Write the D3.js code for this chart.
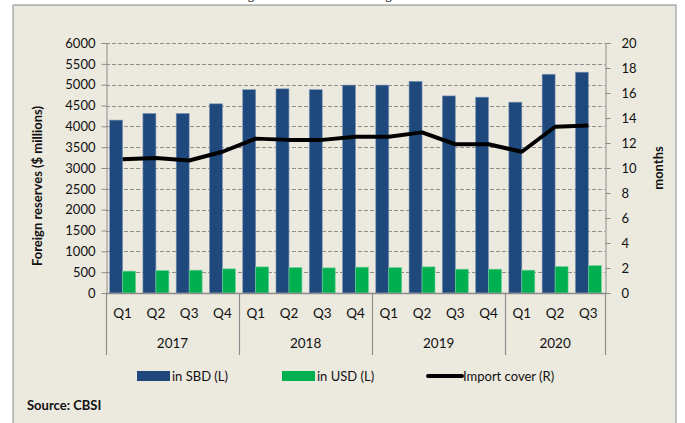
<!DOCTYPE html>
<html>
<head>
<meta charset="utf-8">
<script src="https://cdn.jsdelivr.net/npm/d3@7"></script>
<style>
  html, body { margin: 0; padding: 0; background: #fff; }
  svg { display: block; font-family: Lato, "Open Sans", sans-serif; }
</style>
</head>
<body>
<div id="chart"></div>
<script>
// quarters and years on the category axis
const QUARTERS = ['Q1','Q2','Q3','Q4','Q1','Q2','Q3','Q4','Q1','Q2','Q3','Q4','Q1','Q2','Q3'];
const YEARS = [
  { label: '2017', from: 0, to: 4 },
  { label: '2018', from: 4, to: 8 },
  { label: '2019', from: 8, to: 12 },
  { label: '2020', from: 12, to: 15 },
];
// foreign reserves, $ millions (left axis)
const SBD = [4150, 4310, 4310, 4540, 4880, 4900, 4880, 4990, 4990, 5080, 4730, 4700, 4580, 5250, 5300];
const USD = [525, 540, 548, 580, 627, 610, 603, 620, 610, 627, 572, 572, 548, 634, 658];
// import cover, months (right axis)
const COVER = [10.7, 10.8, 10.6, 11.3, 12.35, 12.25, 12.25, 12.5, 12.5, 12.85, 11.9, 11.9, 11.3, 13.3, 13.4];

const LEFT_TICKS = d3.range(0, 6001, 500);
const RIGHT_TICKS = d3.range(0, 21, 2);

const W = 685, H = 423;
const plot = { left: 106, right: 605, top: 43, bottom: 293 };
const BLUE = '#1f497d', GREEN = '#00b050', AXIS = '#8c8c8c';

const svg = d3.select('#chart').append('svg')
  .attr('width', W).attr('height', H);

// figure caption, mostly cropped away at the top like the source image
svg.append('text')
  .attr('x', 352).attr('y', -1)
  .attr('text-anchor', 'middle')
  .attr('font-family', '"DejaVu Serif", serif')
  .attr('font-size', 14)
  .attr('fill', '#222')
  .text('Figure 6: Gross Foreign Reserves');

svg.append('rect')
  .attr('x', 13).attr('y', 5)
  .attr('width', 663).attr('height', 430)
  .attr('fill', '#ece9df')
  .attr('stroke', '#8a8a8a');

const x = d3.scaleBand()
  .domain(d3.range(QUARTERS.length))
  .range([plot.left, plot.right])
  .padding(0);

const yL = d3.scaleLinear().domain([0, 6000]).range([plot.bottom, plot.top]);
const yR = d3.scaleLinear().domain([0, 20]).range([plot.bottom, plot.top]);

// gridlines
svg.append('g')
  .selectAll('line')
  .data(LEFT_TICKS.slice(1))
  .join('line')
  .attr('x1', plot.left).attr('x2', plot.right)
  .attr('y1', d => Math.round(yL(d)) + 0.5).attr('y2', d => Math.round(yL(d)) + 0.5)
  .attr('stroke', '#8e8e8e')
  .attr('stroke-dasharray', '4,2');

// left axis
svg.append('g')
  .attr('transform', `translate(${plot.left + 0.5},0)`)
  .call(d3.axisLeft(yL).tickValues(LEFT_TICKS).tickFormat(d3.format('d')).tickSize(5).tickPadding(6))
  .call(ax => ax.selectAll('path,line').attr('stroke', AXIS))
  .call(ax => ax.selectAll('text').attr('font-size', 13).attr('fill', '#111').attr('font-family', 'Lato'));

// right axis
svg.append('g')
  .attr('transform', `translate(${plot.right + 0.5},0)`)
  .call(d3.axisRight(yR).tickValues(RIGHT_TICKS).tickSize(5).tickPadding(11))
  .call(ax => ax.selectAll('path,line').attr('stroke', AXIS))
  .call(ax => ax.selectAll('text').attr('font-size', 13).attr('fill', '#111').attr('font-family', 'Lato'));

// bars
const barW = x.bandwidth() * 0.39;
const bars = svg.append('g');
bars.selectAll('.sbd')
  .data(SBD)
  .join('rect')
  .attr('class', 'sbd')
  .attr('x', (d, i) => x(i) + x.bandwidth() / 2 - barW)
  .attr('y', d => yL(d))
  .attr('width', barW)
  .attr('height', d => yL(0) - yL(d))
  .attr('fill', BLUE)
  .attr('stroke', '#7f97b6').attr('stroke-width', 0.6);

bars.selectAll('.usd')
  .data(USD)
  .join('rect')
  .attr('class', 'usd')
  .attr('x', (d, i) => x(i) + x.bandwidth() / 2)
  .attr('y', d => yL(d))
  .attr('width', barW)
  .attr('height', d => yL(0) - yL(d))
  .attr('fill', GREEN)
  .attr('stroke', '#6fd39a').attr('stroke-width', 0.6);

// category baseline
svg.append('line')
  .attr('x1', plot.left).attr('x2', plot.right)
  .attr('y1', plot.bottom + 0.5).attr('y2', plot.bottom + 0.5)
  .attr('stroke', AXIS).attr('stroke-width', 1.5);

// import cover line
const line = d3.line()
  .x((d, i) => x(i) + x.bandwidth() / 2)
  .y(d => yR(d));

svg.append('path')
  .datum(COVER)
  .attr('d', line)
  .attr('fill', 'none')
  .attr('stroke', '#000')
  .attr('stroke-width', 4)
  .attr('stroke-linejoin', 'round');

// quarter labels
svg.append('g')
  .selectAll('text')
  .data(QUARTERS)
  .join('text')
  .attr('x', (d, i) => x(i) + x.bandwidth() / 2)
  .attr('y', 318)
  .attr('text-anchor', 'middle')
  .attr('font-size', 13.5)
  .attr('fill', '#111')
  .text(d => d);

// year groups with divider lines
const dividers = [0, ...YEARS.map(g => g.to)];
svg.append('g')
  .selectAll('line')
  .data(dividers)
  .join('line')
  .attr('x1', d => Math.round(d < QUARTERS.length ? x(d) : plot.right) + 0.5)
  .attr('x2', d => Math.round(d < QUARTERS.length ? x(d) : plot.right) + 0.5)
  .attr('y1', plot.bottom).attr('y2', 355)
  .attr('stroke', AXIS).attr('stroke-width', 1.2);

svg.append('g')
  .selectAll('text')
  .data(YEARS)
  .join('text')
  .attr('x', g => (x(g.from) + (g.to < QUARTERS.length ? x(g.to) : plot.right)) / 2)
  .attr('y', 348)
  .attr('text-anchor', 'middle')
  .attr('font-size', 13.5)
  .attr('fill', '#111')
  .text(g => g.label);

// axis titles
svg.append('text')
  .attr('transform', `translate(42,${(plot.top + plot.bottom) / 2 + 18}) rotate(-90)`)
  .attr('text-anchor', 'middle')
  .attr('font-size', 13)
  .attr('font-weight', 'bold')
  .attr('fill', '#111')
  .text('Foreign reserves ($ millions)');

svg.append('text')
  .attr('transform', `translate(663,${(plot.top + plot.bottom) / 2}) rotate(-90)`)
  .attr('text-anchor', 'middle')
  .attr('font-size', 13)
  .attr('font-weight', 'bold')
  .attr('fill', '#111')
  .text('months');

// legend
const legend = svg.append('g').attr('font-size', 13).attr('fill', '#111');
const items = [
  { label: 'in SBD (L)', x: 137, type: 'bar', color: BLUE },
  { label: 'in USD (L)', x: 282, type: 'bar', color: GREEN },
  { label: 'Import cover (R)', x: 428, type: 'line', color: '#000' },
];
items.forEach(it => {
  if (it.type === 'bar') {
    legend.append('rect')
      .attr('x', it.x).attr('y', 371)
      .attr('width', 33).attr('height', 10)
      .attr('fill', it.color);
  } else {
    legend.append('line')
      .attr('x1', it.x).attr('x2', it.x + 34)
      .attr('y1', 376).attr('y2', 376)
      .attr('stroke', it.color).attr('stroke-width', 4)
      .attr('stroke-linecap', 'round');
  }
  legend.append('text')
    .attr('x', it.x + 35).attr('y', 381)
    .text(it.label);
});

svg.append('text')
  .attr('x', 27).attr('y', 410)
  .attr('font-size', 13)
  .attr('font-weight', 'bold')
  .attr('fill', '#111')
  .text('Source: CBSI');
</script>
</body>
</html>
